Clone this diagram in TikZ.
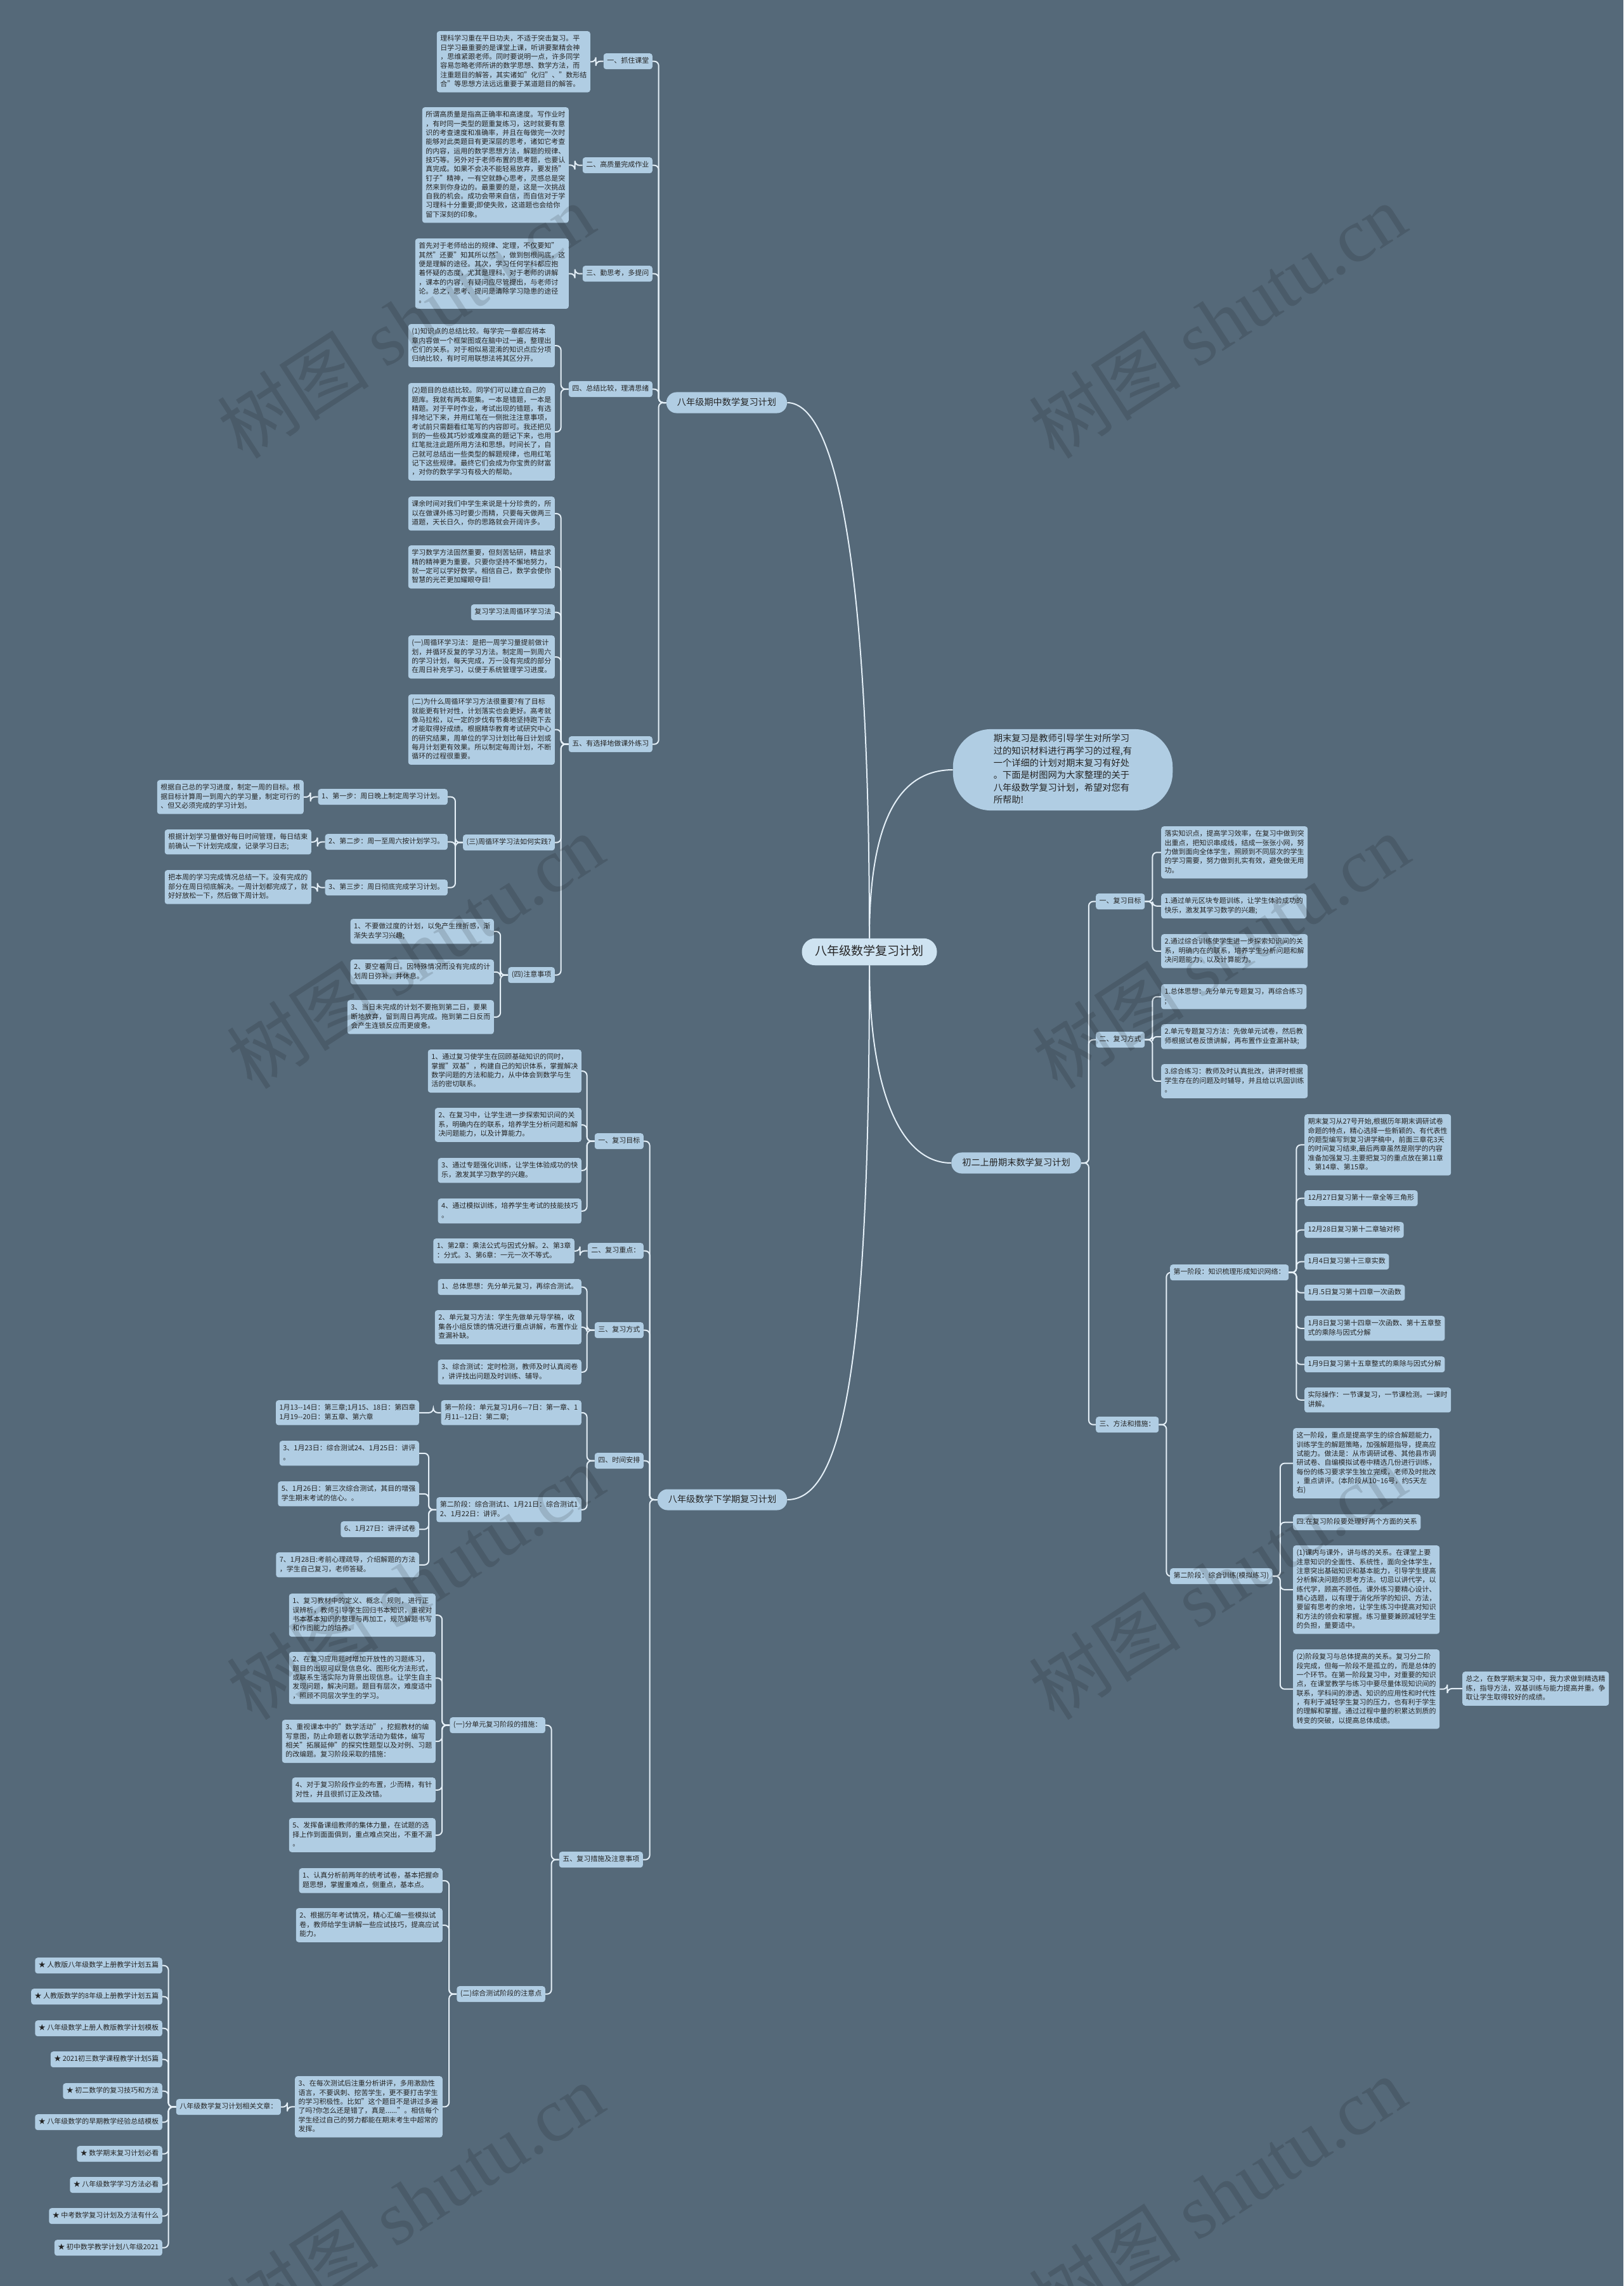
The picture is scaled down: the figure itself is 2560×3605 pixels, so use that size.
\documentclass[tikz,border=0pt]{standalone}
\usepackage{fontspec}
\setmainfont{Noto Sans CJK SC}
\newfontfamily\wmserif{Liberation Serif}
\definecolor{bgc}{RGB}{85,105,121}
\definecolor{nodefill}{RGB}{176,205,227}
\definecolor{rootfill}{RGB}{206,227,241}
\definecolor{linec}{RGB}{228,239,247}
\definecolor{textc}{RGB}{36,36,36}
\pgfdeclarelayer{bg}
\pgfsetlayers{bg,main}
\newcommand\NT[1]{\rule{0pt}{0.86em}#1\rule[-0.27em]{0pt}{0pt}}
\newcommand\Lc[2]{\draw[conn] (#1.west) -- ++(-12,0) |- (#2.east);}
\newcommand\Rc[2]{\draw[conn] (#1.east) -- ++(12,0) |- (#2.west);}
\begin{document}
\begin{tikzpicture}[x=1pt,y=-1pt,
 box/.style={fill=nodefill, rounded corners=4pt, inner xsep=5.5pt, inner ysep=6.25pt, align=left, text=textc, font=\fontsize{11}{14.3}\selectfont},
 lbox/.style={box, anchor=north east},
 rbox/.style={box, anchor=north west},
 mainbox/.style={fill=nodefill, rounded corners=16pt, inner xsep=17pt, inner ysep=8.5pt, text=textc, font=\fontsize{14.2}{17}\selectfont},
 rootbox/.style={fill=rootfill, rounded corners=21pt, inner xsep=21pt, inner ysep=10.5pt, text=textc, font=\fontsize{19}{23}\selectfont},
 introbox/.style={fill=nodefill, rounded corners=60pt, inner xsep=64pt, inner ysep=7.5pt, align=left, text=textc, font=\fontsize{14.3}{19.4}\selectfont},
 conn/.style={draw=linec, line width=2pt, rounded corners=7pt},
 wm/.style={text=black, text opacity=0.13, rotate=33, font=\fontsize{120}{120}\selectfont},
]
\begin{pgfonlayer}{bg}
\fill[bgc] (0,0) rectangle (2560,3605);
\end{pgfonlayer}
\useasboundingbox (0,0) rectangle (2560,3605);

% ---------- root and main branches ----------
\node[rootbox] (root) at (1371,1501) {\NT{八年级数学复习计划}};
\node[introbox] (intro) at (1676,1214) {\NT{期末复习是教师引导学生对所学习\\过的知识材料进行再学习的过程,有\\一个详细的计划对期末复习有好处\\。下面是树图网为大家整理的关于\\八年级数学复习计划，希望对您有\\所帮助!}};
\node[mainbox] (A) at (1146,635) {\NT{八年级期中数学复习计划}};
\node[mainbox] (C) at (1602.5,1834) {\NT{初二上册期末数学复习计划}};
\node[mainbox] (D) at (1139,2365) {\NT{八年级数学下学期复习计划}};

% ---------- branch A ----------
\node[lbox] (a1) at (1029,84) {\NT{一、抓住课堂}};
\node[lbox] (a2) at (1029,248) {\NT{二、高质量完成作业}};
\node[lbox] (a3) at (1029,419) {\NT{三、勤思考，多提问}};
\node[lbox] (a4) at (1029,601) {\NT{四、总结比较，理清思绪}};
\node[lbox] (a5) at (1029,1161) {\NT{五、有选择地做课外练习}};

\node[lbox] (a1t) at (931,49) {\NT{理科学习重在平日功夫，不适于突击复习。平\\日学习最重要的是课堂上课，听讲要聚精会神\\，思维紧跟老师。同时要说明一点，许多同学\\容易忽略老师所讲的数学思想、数学方法，而\\注重题目的解答，其实诸如"化归"、"数形结\\合"等思想方法远远重要于某道题目的解答。}};
\node[lbox] (a2t) at (897,169) {\NT{所谓高质量是指高正确率和高速度。写作业时\\，有时同一类型的题重复练习，这时就要有意\\识的考查速度和准确率，并且在每做完一次时\\能够对此类题目有更深层的思考，诸如它考查\\的内容，运用的数学思想方法，解题的规律、\\技巧等。另外对于老师布置的思考题，也要认\\真完成。如果不会决不能轻易放弃，要发扬"\\钉子"精神，一有空就静心思考，灵感总是突\\然来到你身边的。最重要的是，这是一次挑战\\自我的机会。成功会带来自信，而自信对于学\\习理科十分重要;即使失败，这道题也会给你\\留下深刻的印象。}};
\node[lbox] (a3t) at (897,376) {\NT{首先对于老师给出的规律、定理，不仅要知"\\其然"还要"知其所以然"，做到刨根问底，这\\便是理解的途径。其次，学习任何学科都应抱\\着怀疑的态度，尤其是理科。对于老师的讲解\\，课本的内容，有疑问应尽管提出，与老师讨\\论。总之，思考、提问是清除学习隐患的途径\\。}};
\node[lbox] (a41) at (875,511) {\NT{(1)知识点的总结比较。每学完一章都应将本\\章内容做一个框架图或在脑中过一遍，整理出\\它们的关系。对于相似易混淆的知识点应分项\\归纳比较，有时可用联想法将其区分开。}};
\node[lbox] (a42) at (875,604) {\NT{(2)题目的总结比较。同学们可以建立自己的\\题库。我就有两本题集。一本是错题，一本是\\精题。对于平时作业，考试出现的错题，有选\\择地记下来，并用红笔在一侧批注注意事项，\\考试前只需翻看红笔写的内容即可。我还把见\\到的一些极其巧妙或难度高的题记下来，也用\\红笔批注此题所用方法和思想。时间长了，自\\己就可总结出一些类型的解题规律，也用红笔\\记下这些规律。最终它们会成为你宝贵的财富\\，对你的数学学习有极大的帮助。}};
\node[lbox] (a51) at (875,783) {\NT{课余时间对我们中学生来说是十分珍贵的，所\\以在做课外练习时要少而精，只要每天做两三\\道题，天长日久，你的思路就会开阔许多。}};
\node[lbox] (a52) at (875,860) {\NT{学习数学方法固然重要，但刻苦钻研，精益求\\精的精神更为重要。只要你坚持不懈地努力，\\就一定可以学好数学。相信自己，数学会使你\\智慧的光芒更加耀眼夺目!}};
\node[lbox] (a53) at (875,953) {\NT{复习学习法周循环学习法}};
\node[lbox] (a54) at (875,1002) {\NT{(一)周循环学习法：是把一周学习量提前做计\\划，并循环反复的学习方法。制定周一到周六\\的学习计划，每天完成，万一没有完成的部分\\在周日补充学习，以便于系统管理学习进度。}};
\node[lbox] (a55) at (875,1095) {\NT{(二)为什么周循环学习方法很重要?有了目标\\就能更有针对性，计划落实也会更好。高考就\\像马拉松，以一定的步伐有节奏地坚持跑下去\\才能取得好成绩。根据精华教育考试研究中心\\的研究结果，周单位的学习计划比每日计划或\\每月计划更有效果。所以制定每周计划，不断\\循环的过程很重要。}};
\node[lbox] (a56) at (875,1316) {\NT{(三)周循环学习法如何实践?}};
\node[lbox] (a57) at (875,1525) {\NT{(四)注意事项}};

\node[lbox] (s1) at (706,1244) {\NT{1、第一步：周日晚上制定周学习计划。}};
\node[lbox] (s2) at (706,1315) {\NT{2、第二步：周一至周六按计划学习。}};
\node[lbox] (s3) at (706,1387) {\NT{3、第三步：周日彻底完成学习计划。}};
\node[lbox] (s1t) at (479,1230) {\NT{根据自己总的学习进度，制定一周的目标。根\\据目标计算周一到周六的学习量，制定可行的\\、但又必须完成的学习计划。}};
\node[lbox] (s2t) at (491,1308) {\NT{根据计划学习量做好每日时间管理，每日结束\\前确认一下计划完成度，记录学习日志;}};
\node[lbox] (s3t) at (491,1372) {\NT{把本周的学习完成情况总结一下。没有完成的\\部分在周日彻底解决。一周计划都完成了，就\\好好放松一下，然后做下周计划。}};
\node[lbox] (n1) at (779,1449) {\NT{1、不要做过度的计划，以免产生挫折感，渐\\渐失去学习兴趣;}};
\node[lbox] (n2) at (779,1513) {\NT{2、要空着周日。因特殊情况而没有完成的计\\划周日弥补，并休息。}};
\node[lbox] (n3) at (779,1577) {\NT{3、当日未完成的计划不要拖到第二日，要果\\断地放弃，留到周日再完成。拖到第二日反而\\会产生连锁反应而更疲惫。}};

% ---------- branch D ----------
\node[lbox] (d1) at (1015,1787) {\NT{一、复习目标}};
\node[lbox] (d2) at (1015,1960) {\NT{二、复习重点：}};
\node[lbox] (d3) at (1015,2085) {\NT{三、复习方式}};
\node[lbox] (d4) at (1015,2291) {\NT{四、时间安排}};
\node[lbox] (d5) at (1014,2920) {\NT{五、复习措施及注意事项}};

\node[lbox] (d11) at (917,1655) {\NT{1、通过复习使学生在回顾基础知识的同时，\\掌握"双基"，构建自己的知识体系，掌握解决\\数学问题的方法和能力，从中体会到数学与生\\活的密切联系。}};
\node[lbox] (d12) at (917,1747) {\NT{2、在复习中，让学生进一步探索知识间的关\\系，明确内在的联系，培养学生分析问题和解\\决问题能力，以及计算能力。}};
\node[lbox] (d13) at (917,1826) {\NT{3、通过专题强化训练，让学生体验成功的快\\乐，激发其学习数学的兴趣。}};
\node[lbox] (d14) at (917,1890) {\NT{4、通过模拟训练，培养学生考试的技能技巧\\。}};
\node[lbox] (d21) at (906,1953) {\NT{1、第2章：乘法公式与因式分解。2、第3章\\：分式。3、第6章：一元一次不等式。}};
\node[lbox] (d31) at (917,2017) {\NT{1、总体思想：先分单元复习，再综合测试。}};
\node[lbox] (d32) at (917,2066) {\NT{2、单元复习方法：学生先做单元导学稿，收\\集各小组反馈的情况进行重点讲解，布置作业\\查漏补缺。}};
\node[lbox] (d33) at (917,2144) {\NT{3、综合测试：定时检测，教师及时认真阅卷\\，讲评找出问题及时训练、辅导。}};
\node[lbox] (d41) at (917,2208) {\NT{第一阶段：单元复习1月6—7日：第一章、1\\月11-{}-12日：第二章;}};
\node[lbox] (d42) at (917,2361) {\NT{第二阶段：综合测试1、1月21日：综合测试1\\2、1月22日：讲评。}};
\node[lbox] (d41t) at (661,2208) {\NT{1月13-{}-14日：第三章;1月15、18日：第四章\\1月19-{}-20日：第五章、第六章}};
\node[lbox] (t1) at (661,2272) {\NT{3、1月23日：综合测试24、1月25日：讲评\\。}};
\node[lbox] (t2) at (661,2336) {\NT{5、1月26日：第三次综合测试，其目的增强\\学生期末考试的信心。。}};
\node[lbox] (t3) at (661,2399) {\NT{6、1月27日：讲评试卷}};
\node[lbox] (t4) at (661,2448) {\NT{7、1月28日:考前心理疏导，介绍解题的方法\\，学生自己复习，老师答疑。}};

\node[lbox] (e1) at (860,2708) {\NT{(一)分单元复习阶段的措施：}};
\node[lbox] (e2) at (860,3132) {\NT{(二)综合测试阶段的注意点}};
\node[lbox] (e11) at (687,2513) {\NT{1、复习教材中的定义、概念、规则，进行正\\误辨析，教师引导学生回归书本知识，重视对\\书本基本知识的整理与再加工，规范解题书写\\和作图能力的培养。}};
\node[lbox] (e12) at (687,2605) {\NT{2、在复习应用题时增加开放性的习题练习，\\题目的出现可以是信息化、图形化方法形式，\\或联系生活实际为背景出现信息。让学生自主\\发现问题，解决问题。题目有层次，难度适中\\，照顾不同层次学生的学习。}};
\node[lbox] (e13) at (687,2712) {\NT{3、重视课本中的"数学活动"，挖掘教材的编\\写意图，防止命题者以数学活动为载体，编写\\相关"拓展延伸"的探究性题型以及对例、习题\\的改编题。复习阶段采取的措施：}};
\node[lbox] (e14) at (687,2803) {\NT{4、对于复习阶段作业的布置，少而精，有针\\对性，并且很抓订正及改错。}};
\node[lbox] (e15) at (687,2867) {\NT{5、发挥备课组教师的集体力量，在试题的选\\择上作到面面俱到，重点难点突出，不重不漏\\。}};
\node[lbox] (e21) at (698,2946) {\NT{1、认真分析前两年的统考试卷，基本把握命\\题思想，掌握重难点，侧重点，基本点。}};
\node[lbox] (e22) at (698,3009) {\NT{2、根据历年考试情况，精心汇编一些模拟试\\卷，教师给学生讲解一些应试技巧，提高应试\\能力。}};
\node[lbox] (e23) at (698,3274) {\NT{3、在每次测试后注重分析讲评，多用激励性\\语言，不要讽刺、挖苦学生，更不要打击学生\\的学习积极性。比如"这个题目不是讲过多遍\\了吗?你怎么还是错了，真是......"。相信每个\\学生经过自己的努力都能在期末考生中超常的\\发挥。}};
\node[lbox] (rel) at (443,3310) {\NT{八年级数学复习计划相关文章：}};
\node[lbox] (r1) at (256,3087) {\NT{★ 人教版八年级数学上册教学计划五篇}};
\node[lbox] (r2) at (256,3136) {\NT{★ 人教版数学的8年级上册教学计划五篇}};
\node[lbox] (r3) at (256,3186) {\NT{★ 八年级数学上册人教版教学计划模板}};
\node[lbox] (r4) at (256,3235) {\NT{★ 2021初三数学课程教学计划5篇}};
\node[lbox] (r5) at (256,3285) {\NT{★ 初二数学的复习技巧和方法}};
\node[lbox] (r6) at (256,3334) {\NT{★ 八年级数学的早期教学经验总结模板}};
\node[lbox] (r7) at (256,3384) {\NT{★ 数学期末复习计划必看}};
\node[lbox] (r8) at (256,3433) {\NT{★ 八年级数学学习方法必看}};
\node[lbox] (r9) at (256,3482) {\NT{★ 中考数学复习计划及方法有什么}};
\node[lbox] (r10) at (256,3532) {\NT{★ 初中数学教学计划八年级2021}};

% ---------- branch C ----------
\node[rbox] (c1) at (1728,1409) {\NT{一、复习目标}};
\node[rbox] (c2) at (1728,1627) {\NT{二、复习方式}};
\node[rbox] (c3) at (1728,2234) {\NT{三、方法和措施：}};
\node[rbox] (c11) at (1831,1303) {\NT{落实知识点，提高学习效率，在复习中做到突\\出重点，把知识串成线，结成一张张小网，努\\力做到面向全体学生，照顾到不同层次的学生\\的学习需要，努力做到扎实有效，避免做无用\\功。}};
\node[rbox] (c12) at (1831,1409) {\NT{1.通过单元区块专题训练，让学生体验成功的\\快乐，激发其学习数学的兴趣;}};
\node[rbox] (c13) at (1831,1473) {\NT{2.通过综合训练使学生进一步探索知识间的关\\系，明确内在的联系，培养学生分析问题和解\\决问题能力，以及计算能力。}};
\node[rbox] (c21) at (1831,1552) {\NT{1.总体思想：先分单元专题复习，再综合练习\\;}};
\node[rbox] (c22) at (1831,1615) {\NT{2.单元专题复习方法：先做单元试卷，然后教\\师根据试卷反馈讲解，再布置作业查漏补缺;}};
\node[rbox] (c23) at (1831,1678) {\NT{3.综合练习：教师及时认真批改，讲评时根据\\学生存在的问题及时辅导，并且给以巩固训练\\。}};
\node[rbox] (p1) at (1845,1994) {\NT{第一阶段：知识梳理形成知识网络：}};
\node[rbox] (p2) at (1845,2473) {\NT{第二阶段：综合训练(模拟练习)}};
\node[rbox] (f1) at (2057,1757) {\NT{期末复习从27号开始,根据历年期末调研试卷\\命题的特点，精心选择一些新颖的、有代表性\\的题型编写到复习讲学稿中，前面三章花3天\\的时间复习结束,最后两章虽然是刚学的内容\\准备加强复习.主要把复习的重点放在第11章\\、第14章、第15章。}};
\node[rbox] (f2) at (2057,1877) {\NT{12月27日复习第十一章全等三角形}};
\node[rbox] (f3) at (2057,1927) {\NT{12月28日复习第十二章轴对称}};
\node[rbox] (f4) at (2057,1977) {\NT{1月4日复习第十三章实数}};
\node[rbox] (f5) at (2057,2026) {\NT{1月.5日复习第十四章一次函数}};
\node[rbox] (f6) at (2057,2075) {\NT{1月8日复习第十四章一次函数、第十五章整\\式的乘除与因式分解}};
\node[rbox] (f7) at (2057,2139) {\NT{1月9日复习第十五章整式的乘除与因式分解}};
\node[rbox] (f8) at (2057,2188) {\NT{实际操作：一节课复习，一节课检测。一课时\\讲解。}};
\node[rbox] (g1) at (2039,2252) {\NT{这一阶段，重点是提高学生的综合解题能力，\\训练学生的解题策略，加强解题指导，提高应\\试能力。做法是：从市调研试卷、其他县市调\\研试卷、自编模拟试卷中精选几份进行训练，\\每份的练习要求学生独立完成，老师及时批改\\，重点讲评。(本阶段从10\textasciitilde16号，约5天左\\右)}};
\node[rbox] (g2) at (2039,2388) {\NT{四.在复习阶段要处理好两个方面的关系}};
\node[rbox] (g3) at (2039,2437) {\NT{(1)课内与课外，讲与练的关系。在课堂上要\\注意知识的全面性、系统性，面向全体学生，\\注意突出基础知识和基本能力，引导学生提高\\分析解决问题的思考方法。切忌以讲代学，以\\练代学，顾高不顾低。课外练习要精心设计、\\精心选题，以有理于消化所学的知识、方法，\\要留有思考的余地，让学生练习中提高对知识\\和方法的领会和掌握。练习量要兼顾减轻学生\\的负担，量要适中。}};
\node[rbox] (g4) at (2039,2601) {\NT{(2)阶段复习与总体提高的关系。复习分二阶\\段完成，但每一阶段不是孤立的，而是总体的\\一个环节。在第一阶段复习中，对重要的知识\\点，在课堂教学与练习中要尽量体现知识间的\\联系，学科间的渗透、知识的应用性和时代性\\，有利于减轻学生复习的压力，也有利于学生\\的理解和掌握。通过过程中量的积累达到质的\\转变的突破，以提高总体成绩。}};
\node[rbox] (g5) at (2306,2636) {\NT{总之，在数学期末复习中，我力求做到精选精\\练，指导方法，双基训练与能力提高并重。争\\取让学生取得较好的成绩。}};

% ---------- connectors ----------
\begin{pgfonlayer}{bg}
\draw[conn] (root.north) .. controls (1371,900) and (1320,635) .. (A.east);
\draw[conn] (root.north) .. controls (1371,1290) and (1420,1214) .. (intro.west);
\draw[conn] (root.south) .. controls (1371,1720) and (1420,1834) .. (C.west);
\draw[conn] (root.south) .. controls (1371,2150) and (1330,2365) .. (D.east);
\foreach \c in {a1,a2,a3,a4,a5} {\Lc{A}{\c}}
\Lc{a1}{a1t} \Lc{a2}{a2t} \Lc{a3}{a3t}
\Lc{a4}{a41} \Lc{a4}{a42}
\foreach \c in {a51,a52,a53,a54,a55,a56,a57} {\Lc{a5}{\c}}
\Lc{a56}{s1} \Lc{a56}{s2} \Lc{a56}{s3}
\Lc{s1}{s1t} \Lc{s2}{s2t} \Lc{s3}{s3t}
\Lc{a57}{n1} \Lc{a57}{n2} \Lc{a57}{n3}
\foreach \c in {d1,d2,d3,d4,d5} {\Lc{D}{\c}}
\foreach \c in {d11,d12,d13,d14} {\Lc{d1}{\c}}
\Lc{d2}{d21}
\foreach \c in {d31,d32,d33} {\Lc{d3}{\c}}
\Lc{d4}{d41} \Lc{d4}{d42}
\Lc{d41}{d41t}
\foreach \c in {t1,t2,t3,t4} {\Lc{d42}{\c}}
\Lc{d5}{e1} \Lc{d5}{e2}
\foreach \c in {e11,e12,e13,e14,e15} {\Lc{e1}{\c}}
\foreach \c in {e21,e22,e23} {\Lc{e2}{\c}}
\Lc{e23}{rel}
\foreach \c in {r1,r2,r3,r4,r5,r6,r7,r8,r9,r10} {\Lc{rel}{\c}}
\foreach \c in {c1,c2,c3} {\Rc{C}{\c}}
\foreach \c in {c11,c12,c13} {\Rc{c1}{\c}}
\foreach \c in {c21,c22,c23} {\Rc{c2}{\c}}
\Rc{c3}{p1} \Rc{c3}{p2}
\foreach \c in {f1,f2,f3,f4,f5,f6,f7,f8} {\Rc{p1}{\c}}
\foreach \c in {g1,g2,g3,g4} {\Rc{p2}{\c}}
\Rc{g4}{g5}
\end{pgfonlayer}

% ---------- watermark ----------
\foreach \wx/\wy in {640/506, 1920/506, 655/1500, 1925/1500, 655/2495, 1920/2495, 655/3470, 1920/3460}
  \node[wm] at (\wx,\wy) {树图 {\wmserif shutu.cn}};
\end{tikzpicture}
\end{document}
